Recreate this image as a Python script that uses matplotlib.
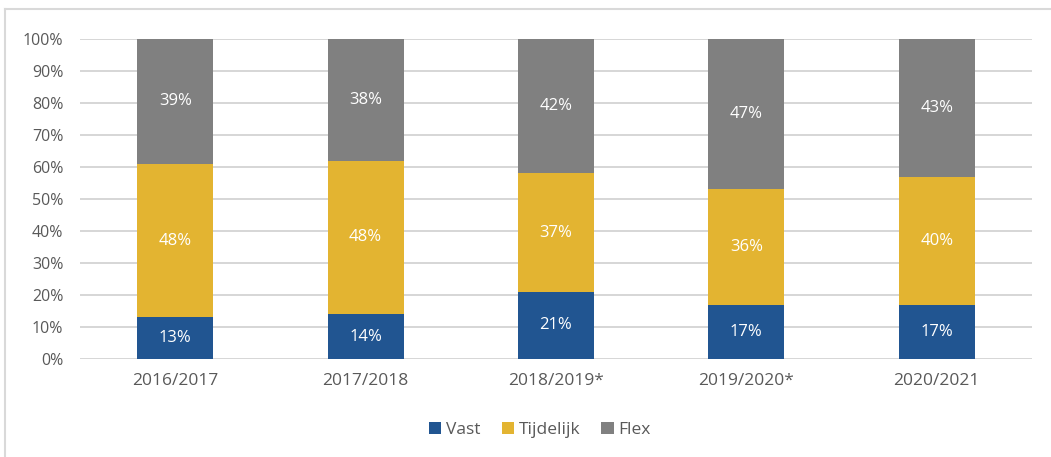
import matplotlib
matplotlib.use("Agg")
import matplotlib.pyplot as plt
from matplotlib.lines import Line2D
import numpy as np

# school years and share of contract types (%)
years = ["2016/2017", "2017/2018", "2018/2019*", "2019/2020*", "2020/2021"]
vast = [13, 14, 21, 17, 17]
tijdelijk = [48, 48, 37, 36, 40]
flex = [39, 38, 42, 47, 43]

series = [("Vast", vast, "#215591"), ("Tijdelijk", tijdelijk, "#E3B431"),
          ("Flex", flex, "#808080")]
TEXT = "#595959"

plt.rcParams["font.family"] = ["Open Sans", "DejaVu Sans"]

fig = plt.figure(figsize=(10.51, 4.57), dpi=100)
ax = fig.add_axes([80 / 1051, 1 - 359 / 457, 952 / 1051, 320 / 457])

x = np.arange(len(years))
bottom = np.zeros(len(years))
for name, vals, col in series:
    vals = np.array(vals, dtype=float)
    ax.bar(x, vals, 0.4, bottom=bottom, color=col, label=name, zorder=3)
    for xi, b, v in zip(x, bottom, vals):
        ax.text(xi, b + v / 2, f"{v:.0f}%", ha="center", va="center",
                color="white", fontsize=12, zorder=4)
    bottom += vals

ax.set_xlim(-0.5, len(years) - 0.5)
ax.set_ylim(0, 100)
ax.set_yticks(range(0, 101, 10))
ax.set_yticklabels([f"{v}%" for v in range(0, 101, 10)])
ax.set_xticks(x)
ax.set_xticklabels(years)
ax.tick_params(length=0, labelsize=11.5, labelcolor=TEXT)
ax.tick_params(axis="x", labelsize=12.5, pad=10)
ax.tick_params(axis="y", pad=12)
ax.grid(axis="y", color="#D0D0D0", lw=1.2, zorder=0)
for s in ax.spines.values():
    s.set_visible(False)

ax.legend(loc="center", bbox_to_anchor=(540 / 1051, 1 - 430 / 457),
          bbox_transform=fig.transFigure, ncol=3, frameon=False,
          fontsize=12.5, labelcolor=TEXT, handlelength=0.7, handleheight=0.7,
          handletextpad=0.3, columnspacing=1.2)

# chart frame, top and left edges
fig.add_artist(Line2D([5 / 1051, 5 / 1051], [0, 1 - 9 / 457],
                      transform=fig.transFigure, color="#D9D9D9", lw=1.5))
fig.add_artist(Line2D([5 / 1051, 1], [1 - 9 / 457, 1 - 9 / 457],
                      transform=fig.transFigure, color="#D9D9D9", lw=1.5))

fig.savefig("out.png", dpi=100)
